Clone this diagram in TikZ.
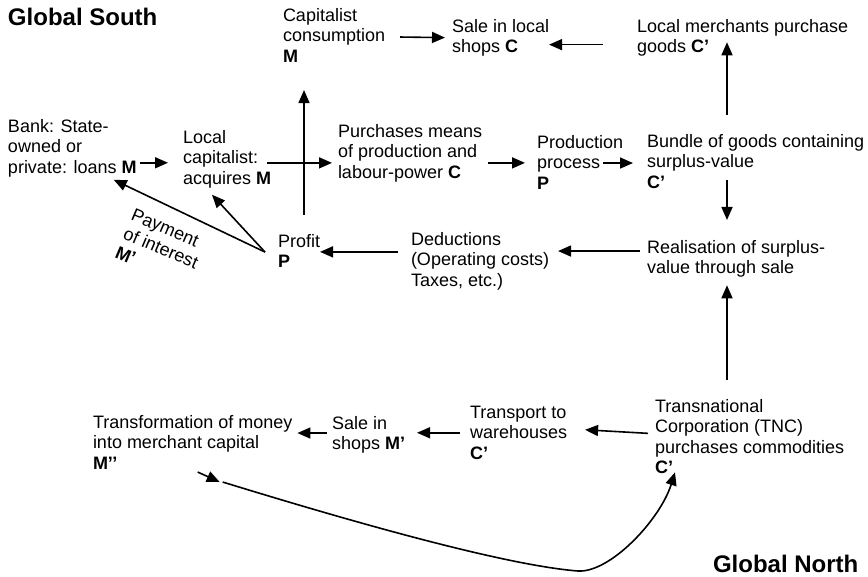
\documentclass[tikz,border=0pt]{standalone}
\usepackage{fontspec}
\setmainfont{Liberation Sans}
\usetikzlibrary{arrows.meta}
\begin{document}
\begin{tikzpicture}[x=1pt,y=-1pt,
  txt/.style={anchor=north west,inner sep=0pt,outer sep=0pt,align=left,font=\fontsize{18}{20.5}\selectfont},
  title/.style={anchor=north west,inner sep=0pt,outer sep=0pt,font=\fontsize{24}{28}\selectfont\bfseries},
  arr/.style={line width=1.6pt,-{Triangle[length=13pt,width=11pt]}}]
\useasboundingbox (0,0) rectangle (868,577);
\node[title] (gs) at (8,8) {Global South};
\node[txt] (cc) at (283,8) {Capitalist\\consumption\\\textbf{M}};
\node[txt] (sl) at (452,19) {Sale in local\\shops \textbf{C}};
\node[txt] (lm) at (637,19) {Local merchants purchase\\goods \textbf{C'}};
\node[txt] (bank) at (8,119) {Bank: State-\\owned or\\private: loans \textbf{M}};
\node[txt] (lc) at (183,130) {Local\\capitalist:\\acquires \textbf{M}};
\node[txt] (pm) at (338,124) {Purchases means\\of production and\\labour-power \textbf{C}};
\node[txt] (pp) at (537,135) {Production\\process\\\textbf{P}};
\node[txt] (bg) at (647,134) {Bundle of goods containing\\surplus-value\\\textbf{C'}};
\node[txt] (rs) at (647,240) {Realisation of surplus-\\value through sale};
\node[txt] (dd) at (411,232) {Deductions\\(Operating costs)\\Taxes, etc.)};
\node[txt] (pr) at (278,234) {Profit\\\textbf{P}};
\node[txt,rotate=-23] (pay) at (135,208) {Payment\\of interest\\\textbf{M'}};
\node[txt] (tnc) at (655,399) {Transnational\\Corporation (TNC)\\purchases commodities\\\textbf{C'}};
\node[txt] (tw) at (470,406) {Transport to\\warehouses\\\textbf{C'}};
\node[txt] (ss) at (332,416) {Sale in\\shops \textbf{M'}};
\node[txt] (tm) at (93,415) {Transformation of money\\into merchant capital\\\textbf{M'{}'}};
\node[title] (gn) at (713,555) {Global North};
\coordinate (spine) at (727,0);
\coordinate (vx) at (304,0);
% top row
\draw[arr] ([xshift=15pt,yshift=-2pt]cc.east) -- ([xshift=-7pt]sl.west);
\draw[arr] ([xshift=-34pt,yshift=-7pt]lm.west) coordinate (t2) -- (t2 -| sl.east);
\draw[arr,shorten <=19pt,shorten >=-14pt] (bg.north -| spine) -- (lm.south -| spine);
% middle row
\draw[arr,shorten >=15pt] ([xshift=3pt,yshift=14pt]bank.south east) coordinate (t4) -- (t4 -| lc.west);
\draw[arr,shorten >=6pt] ([xshift=-4pt,yshift=-4pt]lc.east) coordinate (t5) -- (t5 -| pm.west);
\draw[arr,shorten <=19pt,shorten >=28pt] (pr.north -| vx) -- (cc.south -| vx);
\draw[arr,shorten >=12pt] ([xshift=6pt,yshift=-10pt]pm.east) coordinate (t7) -- (t7 -| pp.west);
\draw[arr,shorten >=14pt] ([xshift=-20pt,yshift=-1pt]pp.east) coordinate (t8) -- (t8 -| bg.west);
\draw[arr,shorten <=-8pt,shorten >=20pt] (bg.south -| spine) -- (rs.north -| spine);
\draw[arr,shorten >=9pt] ([xshift=-7pt,yshift=7.6pt]rs.west) coordinate (t10) -- (t10 -| dd.east);
\draw[arr] ([xshift=-13pt,yshift=9pt]dd.west) coordinate (t11) -- (t11 -| pr.east);
\draw[arr] ([xshift=-13pt,yshift=-1.3pt]pr.west) coordinate (pv) -- ([xshift=-23pt,yshift=-3pt]bank.south east);
\draw[arr] (pv) -- ([xshift=-15pt,yshift=-7pt]lc.south);
% bottom
\draw[arr,shorten <=19pt,shorten >=8pt] (tnc.north -| spine) -- (rs.south -| spine);
\draw[arr] ([xshift=-7pt,yshift=3pt]tnc.west) -- ([xshift=18pt,yshift=3pt]tw.east);
\draw[arr,shorten >=12pt] ([xshift=-10pt]tw.west) coordinate (t16) -- (t16 -| ss.east);
\draw[arr,shorten >=5pt] ([xshift=-5pt,yshift=1.6pt]ss.west) coordinate (t17) -- (t17 -| tm.east);
\draw[arr] ([xshift=5pt,yshift=-3pt]tm.south) -- ([xshift=27pt,yshift=-13pt]tm.south);
\draw[arr] ([xshift=30pt,yshift=-13pt]tm.south) .. controls (330,515) and (500,565) .. (578,571) .. controls (610,573) and (660,520) .. ([xshift=20pt,yshift=1.4pt]tnc.south west);
\end{tikzpicture}
\end{document}
